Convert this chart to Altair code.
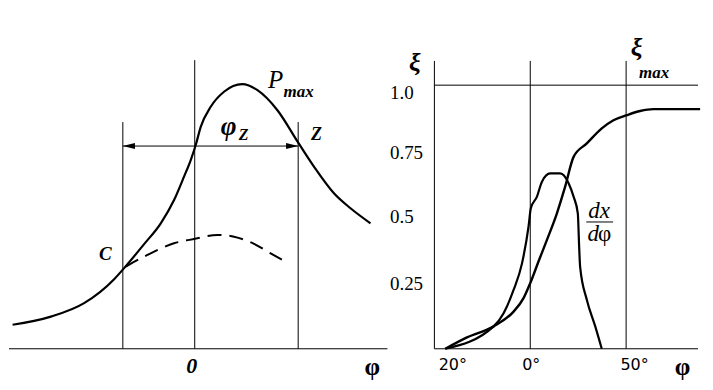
import altair as alt
import pandas as pd

# ---------------- Left panel: power-angle characteristic (arbitrary units) ----
left_phi = [-91.2, -72, -55.4, -40.35, -35.35, -25.35, -17, -10.35, -5.35, -2,
            0.5, 3, 8, 14.65, 23.85, 31.4, 41.4, 51.9, 59.7, 69.7, 78, 88]
left_p = [9.1, 12.2, 17.3, 26.4, 30.6, 39.7, 47.6, 56.4, 65.3, 71.6,
          77.3, 84.2, 91.8, 97.5, 100.4, 98.1, 90.5, 78.1, 69.1, 59.0, 53.3, 47.6]
dash_phi = [-34.5, -23.7, -10.4, 0.2, 11.4, 19.7, 29.7, 38, 44.7]
dash_p = [31.2, 35.6, 40.0, 41.7, 43.2, 42.5, 39.8, 36.2, 33.4]
left_vline_x = [-36, 0, 51.8]
left_vline_top = [86, 109.5, 86]
arrow_y = 76.9

# ---------------- Right panel: xi and dx/dphi vs phi (degrees) ----------------
xi_phi = [-44.3, -33, -19.1, -8.7, -3.5, 0, 4.3, 8.7, 13.9, 18.2, 22.6, 29.5,
          37.3, 43.4, 50.3, 57.3, 64.2, 88.6]
xi_val = [0, 0.043, 0.085, 0.141, 0.192, 0.249, 0.331, 0.413, 0.514, 0.615,
          0.728, 0.779, 0.836, 0.867, 0.886, 0.902, 0.909, 0.909]
dx_phi = [-44.3, -19.1, -13.9, -8.7, -4.3, -0.9, 0.3, 3.5, 6.1, 10.4, 15.6,
          20, 22.6, 24.8, 25.5, 26, 29.5, 33.9, 37.3]
dx_val = [0, 0.085, 0.135, 0.223, 0.324, 0.463, 0.533, 0.577, 0.634, 0.665,
          0.665, 0.628, 0.577, 0.514, 0.388, 0.312, 0.186, 0.085, 0]
right_vline_x = [-50, 0, 50]
right_vline_top = 1.092
y_ticks = ["1.0", "0.75", "0.5", "0.25"]
y_tick_pos = [0.972, 0.744, 0.498, 0.246]
x_ticks = ["20°", "0°", "50°"]
x_tick_pos = [-40.4, 0.5, 54.4]

SERIF = "Liberation Serif"
SANS = "DejaVu Sans"
H = 368

xsL = alt.Scale(domain=[-93, 97], nice=False, zero=False)
ysL = alt.Scale(domain=[-10.23, 129.17], nice=False, zero=False)
xsR = alt.Scale(domain=[-73.96, 89.06], nice=False, zero=False)
ysR = alt.Scale(domain=[-0.1023, 1.2917], nice=False, zero=False)


def line(xv, yv, xs, ys, **kw):
    df = pd.DataFrame({"x": xv, "y": yv, "o": range(len(xv))})
    return alt.Chart(df).mark_line(color="black", interpolate="monotone", **kw).encode(
        x=alt.X("x:Q", scale=xs, axis=None),
        y=alt.Y("y:Q", scale=ys, axis=None),
        order="o:Q",
    )


def vrules(xv, y0, y1, xs, ys, w=1.0):
    df = pd.DataFrame({"x": xv, "y0": y0, "y1": y1})
    return alt.Chart(df).mark_rule(color="black", strokeWidth=w).encode(
        x=alt.X("x:Q", scale=xs, axis=None),
        y=alt.Y("y0:Q", scale=ys, axis=None),
        y2="y1:Q",
    )


def hrules(yv, x0, x1, xs, ys, w=1.0):
    df = pd.DataFrame({"y": yv, "x0": x0, "x1": x1})
    return alt.Chart(df).mark_rule(color="black", strokeWidth=w).encode(
        y=alt.Y("y:Q", scale=ys, axis=None),
        x=alt.X("x0:Q", scale=xs, axis=None),
        x2="x1:Q",
    )


def txt(xv, yv, s, xs, ys, size, style="normal", weight="normal",
        align="center", font=SERIF):
    df = pd.DataFrame({"x": xv, "y": yv, "t": s})
    return alt.Chart(df).mark_text(
        font=font, fontSize=size, fontStyle=style, fontWeight=weight,
        align=align, baseline="middle", color="black",
    ).encode(
        x=alt.X("x:Q", scale=xs, axis=None),
        y=alt.Y("y:Q", scale=ys, axis=None),
        text="t:N",
    )


def arrowhead(xv, yv, shape, xs, ys):
    df = pd.DataFrame({"x": xv, "y": yv})
    return alt.Chart(df).mark_point(
        shape=shape, size=150, filled=True, color="black", opacity=1
    ).encode(
        x=alt.X("x:Q", scale=xs, axis=None),
        y=alt.Y("y:Q", scale=ys, axis=None),
    )


left = alt.layer(
    hrules([0], [-93], [96.5], xsL, ysL),
    vrules(left_vline_x, [0, 0, 0], left_vline_top, xsL, ysL),
    hrules([arrow_y], [-36], [51.8], xsL, ysL),
    arrowhead([-33], [arrow_y], "M 1 -0.5 L -1 0 L 1 0.5 Z", xsL, ysL),
    arrowhead([48.8], [arrow_y], "M -1 -0.5 L 1 0 L -1 0.5 Z", xsL, ysL),
    line(left_phi, left_p, xsL, ysL, strokeWidth=2.2),
    line(dash_phi, dash_p, xsL, ysL, strokeWidth=2.0, strokeDash=[14, 8]),
    txt([40.5], [101.9], ["P"], xsL, ysL, 25, style="italic"),
    txt([52], [97.4], ["max"], xsL, ysL, 17, style="italic", weight="bold"),
    txt([17], [84.1], ["φ"], xsL, ysL, 27, style="italic", weight="bold"),
    txt([24.5], [81.2], ["Z"], xsL, ysL, 16, style="italic", weight="bold"),
    txt([61], [81.25], ["Z"], xsL, ysL, 18, style="italic", weight="bold"),
    txt([-44.75], [35.8], ["C"], xsL, ysL, 19, style="italic", weight="bold"),
    txt([-1.5], [-6.44], ["0"], xsL, ysL, 22, style="italic", weight="bold"),
    txt([88.85], [-6.8], ["φ"], xsL, ysL, 25, weight="bold"),
).properties(width=380, height=H)

right = alt.layer(
    hrules([0, 1.0], [-50, -50], [87.5, 87.5], xsR, ysR),
    vrules(right_vline_x, [0, 0, 0], [right_vline_top] * 3, xsR, ysR),
    line(xi_phi, xi_val, xsR, ysR, strokeWidth=2.4),
    line(dx_phi, dx_val, xsR, ysR, strokeWidth=2.2),
    hrules([0.481], [29.2], [43.2], xsR, ysR),
    txt([-73.2] * 4, y_tick_pos, y_ticks, xsR, ysR, 19, align="left"),
    txt(x_tick_pos, [-0.0606] * 3, x_ticks, xsR, ysR, 16, font=SANS),
    txt([79.4], [-0.068], ["φ"], xsR, ysR, 25, weight="bold"),
    txt([-60.2], [1.085], ["ξ"], xsR, ysR, 26, style="italic", weight="bold"),
    txt([55.5], [1.142], ["ξ"], xsR, ysR, 26, style="italic", weight="bold"),
    txt([64.6], [1.047], ["max"], xsR, ysR, 17, style="italic", weight="bold"),
    txt([35.9], [0.521], ["dx"], xsR, ysR, 23, style="italic"),
    txt([32.8], [0.4337], ["d"], xsR, ysR, 23, style="italic"),
    txt([38.8], [0.4337], ["φ"], xsR, ysR, 23),
).properties(width=313, height=H)

chart = alt.hconcat(left, right, spacing=0).properties(
    padding=0
).configure_view(stroke=None)

chart.save("out.html", embed_options={"renderer": "svg", "actions": False})
